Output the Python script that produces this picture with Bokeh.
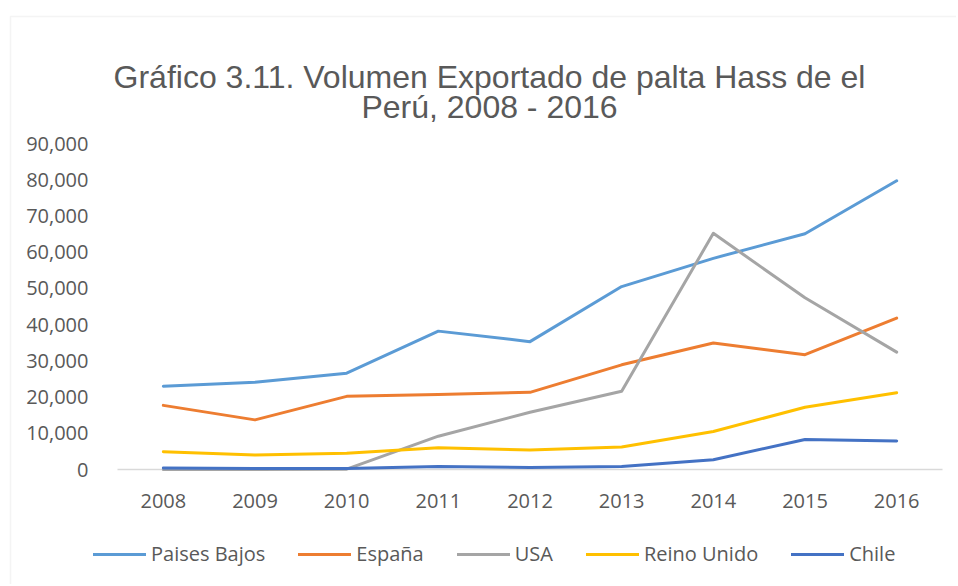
from bokeh.plotting import figure
from bokeh.models import (Range1d, FixedTicker, NumeralTickFormatter,
                          Legend, LegendItem, Label, BoxAnnotation)
from bokeh.embed import file_html
from bokeh.resources import INLINE

# ---- data ----
years = ["2008", "2009", "2010", "2011", "2012", "2013", "2014", "2015", "2016"]
paises_bajos = [23000, 24100, 26600, 38200, 35300, 50500, 58300, 65100, 79700]
espana = [17700, 13700, 20200, 20700, 21300, 28900, 34900, 31700, 41800]
usa = [0, 0, 100, 9200, 15800, 21600, 65200, 47400, 32400]
reino_unido = [4900, 4000, 4500, 6000, 5400, 6200, 10500, 17200, 21200]
chile = [400, 300, 300, 800, 550, 800, 2700, 8300, 7900]

series_names = ["Paises Bajos", "España", "USA", "Reino Unido", "Chile"]
series_colors = ["#5B9BD5", "#ED7D31", "#A5A5A5", "#FFC000", "#4472C4"]
y_ticks = [0, 10000, 20000, 30000, 40000, 50000, 60000, 70000, 80000, 90000]
title_lines = ["Gráfico 3.11. Volumen Exportado de palta Hass de el",
               "Perú, 2008 - 2016"]

TEXT = "#595959"
FONT = "Open Sans"

# ---- layout (page pixels) ----
W, H = 956, 584            # canvas; lands at page (0, 0)
CX0, CY0 = 0, 0
PLOT_L, PLOT_R = 117, 942  # category band extent
PLOT_T, PLOT_B = 143, 469  # 90,000 and 0
YMAX = 90000
step = (PLOT_R - PLOT_L) / len(years)
x0px = PLOT_L + step / 2
ypp = YMAX / (PLOT_B - PLOT_T)


def px_x(px):
    return (px - x0px) / step


def px_y(py):
    return (PLOT_B - py) * ypp


xs = list(range(len(years)))

p = figure(width=W, height=H,
           x_range=Range1d(px_x(CX0), px_x(CX0 + W)),
           y_range=Range1d(px_y(CY0 + H), px_y(CY0)),
           output_backend="svg", toolbar_location=None,
           min_border_left=0, min_border_right=0,
           min_border_top=0, min_border_bottom=0)
p.outline_line_color = None
p.grid.visible = False
p.background_fill_color = "white"
p.border_fill_color = "white"

# chart-area border (only its top and left edges fall inside the picture)
p.add_layout(BoxAnnotation(left=px_x(10), right=px_x(1100),
                           top=px_y(16), bottom=px_y(800),
                           fill_alpha=0, line_color="#d9d9d9", line_width=1.5,
                           level="underlay"))

items = []
for name, vals, col in zip(series_names,
                           [paises_bajos, espana, usa, reino_unido, chile],
                           series_colors):
    r = p.line(x=xs, y=vals, line_color=col, line_width=3,
               line_join="round", line_cap="round")
    items.append(LegendItem(label=name, renderers=[r]))

for ax in (p.xaxis, p.yaxis):
    ax.major_tick_line_color = None
    ax.minor_tick_line_color = None
    ax.major_label_text_font = FONT
    ax.major_label_text_font_size = "20px"
    ax.major_label_text_color = TEXT

p.xaxis.fixed_location = 0
p.xaxis.bounds = (-0.5, len(years) - 0.5)
p.xaxis.axis_line_color = "#d9d9d9"
p.xaxis.axis_line_width = 1.5
p.xaxis.level = "underlay"
p.xaxis.ticker = FixedTicker(ticks=xs)
p.xaxis.major_label_overrides = {i: y for i, y in enumerate(years)}
p.xaxis.major_label_standoff = 18

p.yaxis.fixed_location = -0.5
p.yaxis.axis_line_color = None
p.yaxis.ticker = FixedTicker(ticks=y_ticks)
p.yaxis.formatter = NumeralTickFormatter(format="0,0")
p.yaxis.major_label_standoff = 23

legend = Legend(items=items, orientation="horizontal",
                location=(93 - CX0, CY0 + H - 567),
                padding=0, margin=0, spacing=33, glyph_width=53, glyph_height=20,
                label_standoff=5, label_text_font=FONT, label_text_font_size="20px",
                label_text_color=TEXT, border_line_alpha=0, background_fill_alpha=0)
p.add_layout(legend)

for txt, base in zip(title_lines, [76, 106]):
    p.add_layout(Label(x=489 - CX0, y=CY0 + H - base, x_units="screen",
                       y_units="screen", text=txt, text_align="center",
                       text_baseline="alphabetic", text_font="Liberation Sans",
                       text_font_size="32px", text_color=TEXT))

open("out.html", "w").write(file_html(p, INLINE))
